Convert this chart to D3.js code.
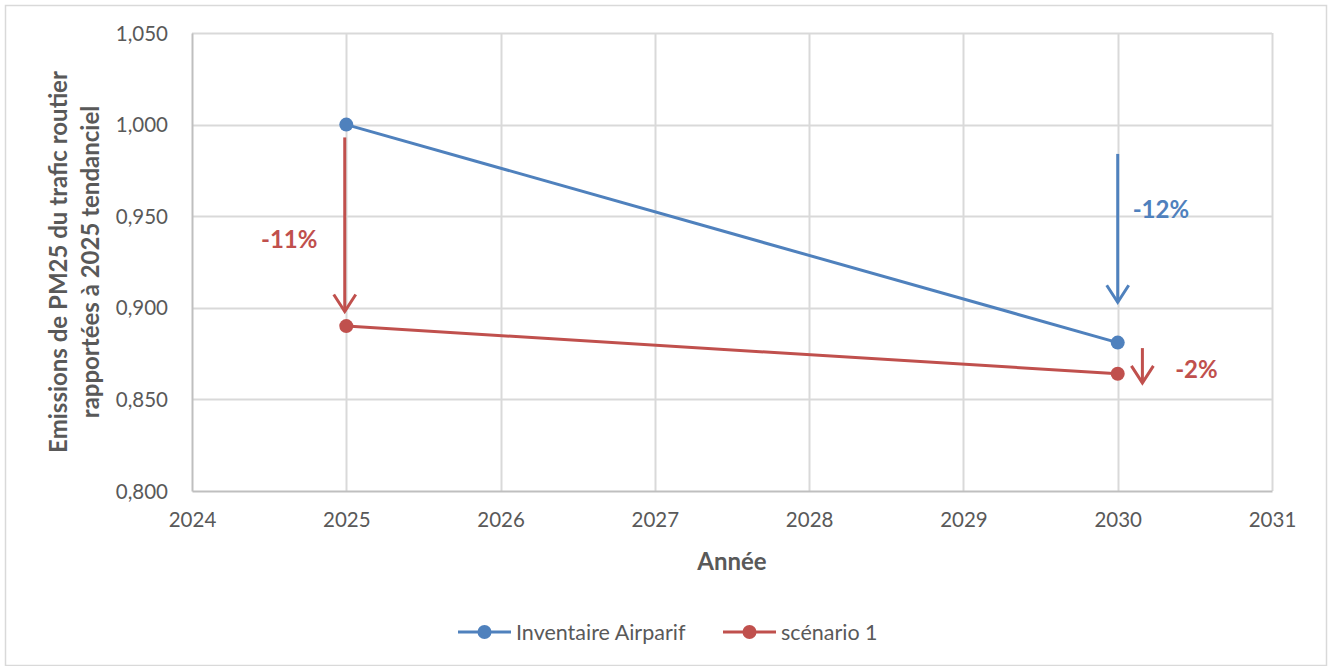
<!DOCTYPE html>
<html>
<head>
<meta charset="utf-8">
<script src="https://cdn.jsdelivr.net/npm/d3@7"></script>
<style>
	body { margin: 0; background: #fff; }
	svg text { font-family: Lato, "Open Sans", sans-serif; fill: #595959; }
</style>
</head>
<body>
<script>
var years = [ 2025, 2030 ];
var inventaire = [ 1.000, 0.881 ];
var scenario1 = [ 0.890, 0.864 ];
var yTicks = [ 0.800, 0.850, 0.900, 0.950, 1.000, 1.050 ];
var xTicks = [ 2024, 2025, 2026, 2027, 2028, 2029, 2030, 2031 ];

// annotations: arrow start/end in data units
var arrows = [
	{ x: 2024.99, y0: 0.993, y1: 0.898, color: '#c0504d', label: '-11%', lx: 2024.63, ly: 0.9375 },
	{ x: 2030.0, y0: 0.984, y1: 0.903, color: '#4f81bd', label: '-12%', lx: 2030.28, ly: 0.9535 },
	{ x: 2030.16, y0: 0.878, y1: 0.859, color: '#c0504d', label: '-2%', lx: 2030.51, ly: 0.8665 }
];

var series = [
	{ name: 'Inventaire Airparif', values: inventaire, color: '#4f81bd' },
	{ name: 'scénario 1', values: scenario1, color: '#c0504d' }
];

var width = 1332;
var height = 666;

var padding = { top: 33, right: 60, bottom: 175, left: 192 };

var svg = d3.select( 'body' ).append( 'svg' )
	.attr( 'width', width )
	.attr( 'height', height );

svg.append( 'rect' )
	.attr( 'x', 5.5 ).attr( 'y', 5.5 )
	.attr( 'width', width - 11 ).attr( 'height', height - 6 )
	.attr( 'fill', '#fff' )
	.attr( 'stroke', '#d9d9d9' )
	.attr( 'stroke-width', 1.5 );

var scales = {};
scales.x = d3.scaleLinear().domain( [ 2024, 2031 ] ).range( [ padding.left, width - padding.right ] );
scales.y = d3.scaleLinear().domain( [ 0.8, 1.05 ] ).range( [ height - padding.bottom, padding.top ] );

var fmt = function ( d ) { return d3.format( '.3f' )( d ).replace( '.', ',' ); };

// gridlines
var grid = svg.append( 'g' ).attr( 'id', 'grid' );
grid.selectAll( '.hgrid' ).data( yTicks.slice( 1 ) ).enter().append( 'line' )
	.attr( 'x1', scales.x( 2024 ) ).attr( 'x2', scales.x( 2031 ) )
	.attr( 'y1', function ( d ) { return Math.round( scales.y( d ) ) + 0.5; } )
	.attr( 'y2', function ( d ) { return Math.round( scales.y( d ) ) + 0.5; } )
	.attr( 'stroke', '#d9d9d9' ).attr( 'stroke-width', 2 );
grid.selectAll( '.vgrid' ).data( xTicks.slice( 1 ) ).enter().append( 'line' )
	.attr( 'y1', scales.y( 0.8 ) ).attr( 'y2', scales.y( 1.05 ) )
	.attr( 'x1', function ( d ) { return Math.round( scales.x( d ) ) + 0.5; } )
	.attr( 'x2', function ( d ) { return Math.round( scales.x( d ) ) + 0.5; } )
	.attr( 'stroke', '#d9d9d9' ).attr( 'stroke-width', 2 );

// axes
var xAxis = svg.append( 'g' )
	.attr( 'transform', 'translate(0,' + scales.y( 0.8 ) + ')' )
	.call( d3.axisBottom( scales.x ).tickValues( xTicks ).tickFormat( d3.format( 'd' ) ).tickSize( 0 ).tickPadding( 21 ) );
var yAxis = svg.append( 'g' )
	.attr( 'transform', 'translate(' + scales.x( 2024 ) + ',0)' )
	.call( d3.axisLeft( scales.y ).tickValues( yTicks ).tickFormat( fmt ).tickSize( 0 ).tickPadding( 24 ) );
[ xAxis, yAxis ].forEach( function ( a ) {
	a.select( '.domain' ).attr( 'stroke', '#bfbfbf' ).attr( 'stroke-width', 2 );
	a.selectAll( 'text' ).style( 'font-size', '20.5px' ).attr( 'fill', '#595959' );
} );
yAxis.selectAll( 'text' ).attr( 'dy', '0.35em' );

// axis titles
svg.append( 'text' )
	.attr( 'x', scales.x( 2027.5 ) ).attr( 'y', 570 )
	.attr( 'text-anchor', 'middle' )
	.style( 'font-size', '24px' ).style( 'font-weight', 'bold' )
	.text( 'Année' );
var yTitle = svg.append( 'text' )
	.attr( 'transform', 'translate(0,' + 262 + ') rotate(-90)' )
	.attr( 'text-anchor', 'middle' )
	.style( 'font-size', '24px' ).style( 'font-weight', 'bold' );
yTitle.append( 'tspan' ).attr( 'x', 0 ).attr( 'y', 67 ).text( 'Emissions de PM25 du trafic routier' );
yTitle.append( 'tspan' ).attr( 'x', 0 ).attr( 'y', 99 ).text( 'rapportées à 2025 tendanciel' );

// lines
var line = d3.line()
	.x( function ( d ) { return scales.x( d.x ); } )
	.y( function ( d ) { return scales.y( d.y ); } );

series.forEach( function ( s ) {
	var pts = years.map( function ( yr, i ) { return { x: yr, y: s.values[i] }; } );
	svg.append( 'path' ).datum( pts )
		.attr( 'd', line )
		.attr( 'fill', 'none' )
		.attr( 'stroke', s.color )
		.attr( 'stroke-width', 3 );
	svg.selectAll( null ).data( pts ).enter().append( 'circle' )
		.attr( 'cx', function ( d ) { return scales.x( d.x ); } )
		.attr( 'cy', function ( d ) { return scales.y( d.y ); } )
		.attr( 'r', 7 )
		.attr( 'fill', s.color );
} );

// annotation arrows
arrows.forEach( function ( a ) {
	var x = scales.x( a.x );
	var y0 = scales.y( a.y0 );
	var y1 = scales.y( a.y1 );
	var g = svg.append( 'g' ).attr( 'stroke', a.color ).attr( 'stroke-width', 3 ).attr( 'fill', 'none' );
	g.append( 'line' ).attr( 'x1', x ).attr( 'x2', x ).attr( 'y1', y0 ).attr( 'y2', y1 );
	g.append( 'path' )
		.attr( 'd', 'M' + ( x - 11 ) + ',' + ( y1 - 17 ) + 'L' + x + ',' + y1 + 'L' + ( x + 11 ) + ',' + ( y1 - 17 ) );
	svg.append( 'text' )
		.attr( 'x', scales.x( a.lx ) ).attr( 'y', scales.y( a.ly ) )
		.attr( 'dy', '0.35em' )
		.attr( 'text-anchor', 'middle' )
		.style( 'font-size', '24px' ).style( 'font-weight', 'bold' )
		.style( 'fill', a.color )
		.text( a.label );
} );

// legend
var legend = svg.append( 'g' ).attr( 'transform', 'translate(458,632)' );
var offsets = [ 0, 265 ];
series.forEach( function ( s, i ) {
	var e = legend.append( 'g' ).attr( 'transform', 'translate(' + offsets[i] + ',0)' );
	e.append( 'line' ).attr( 'x1', 0 ).attr( 'x2', 53 ).attr( 'stroke', s.color ).attr( 'stroke-width', 3 );
	e.append( 'circle' ).attr( 'cx', 26.5 ).attr( 'r', 7 ).attr( 'fill', s.color );
	e.append( 'text' ).attr( 'x', 58 ).attr( 'dy', '0.35em' )
		.style( 'font-size', '21.5px' ).text( s.name );
} );
</script>
</body>
</html>
